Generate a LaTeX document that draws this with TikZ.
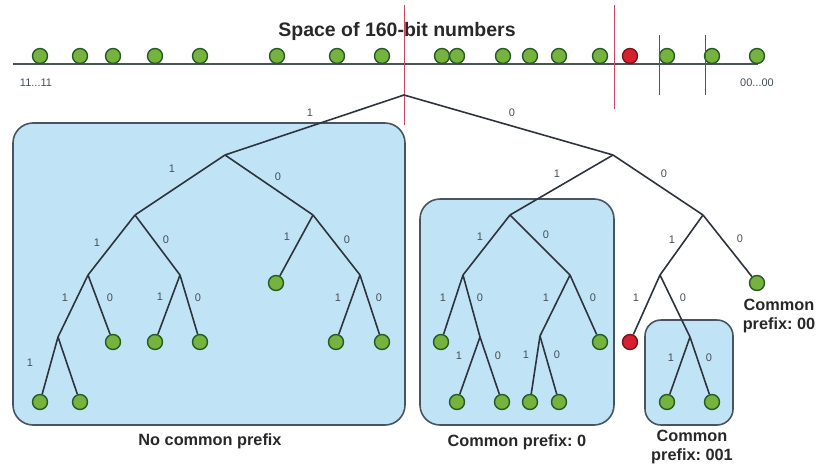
\documentclass[tikz,border=0pt]{standalone}
\usepackage{fontspec}
\setmainfont{Liberation Sans}
\frenchspacing
\begin{document}
\begin{tikzpicture}[x=1pt,y=-1pt,
  dot/.style={circle,draw=dotline,fill=dotgreen,line width=1.4pt,minimum size=15pt,inner sep=0pt},
  baddot/.style={dot,draw=reddotline,fill=dotred},
  edge/.style={draw=treeline,line width=1.6pt},
  region/.style={draw=boxline,fill=boxfill,line width=1.6pt,rounded corners=20pt},
  elab/.style={text=labgray,font=\fontsize{11}{12}\selectfont,inner sep=0pt},
  captext/.style={font=\fontsize{16.3}{19.5}\selectfont\bfseries,text=captxt,align=center,inner sep=0pt},
  divider/.style={draw=divred,line width=1pt},
  subdiv/.style={draw=divdark,line width=1pt}]
\definecolor{dotgreen}{RGB}{118,178,62}
\definecolor{dotline}{RGB}{38,92,34}
\definecolor{dotred}{RGB}{214,32,48}
\definecolor{reddotline}{RGB}{120,20,28}
\definecolor{treeline}{RGB}{45,52,62}
\definecolor{boxline}{RGB}{72,84,98}
\definecolor{boxfill}{RGB}{192,228,246}
\definecolor{labgray}{RGB}{70,78,88}
\definecolor{captxt}{RGB}{40,40,40}
\definecolor{divred}{RGB}{205,70,95}
\definecolor{divdark}{RGB}{120,70,90}
\useasboundingbox (0,0) rectangle (820,469);

% number line with keys
\node[font=\fontsize{19.5}{23}\selectfont\bfseries,text=captxt,inner sep=0pt] (title) at (397,31) {Space of 160-bit numbers};
\coordinate (lineL) at (13,64);
\coordinate (lineR) at (758,64);
\draw[draw=treeline!85,line width=1.5pt] (lineL) -- (lineR);
\node[elab] (hi) at (36,83) {11...11};
\node[elab] (lo) at (757,83) {00...00};
\foreach \x [count=\i] in {40,80,113,155,200,277,337,382,442,457,503,530,559,600,667,712,757}
  \node[dot] (k\i) at (\x,56) {};
\node[baddot] (kred) at (630,56) {};

% regions
\node[region,minimum width=392pt,minimum height=302pt] (regA) at (209,274) {};
\node[region,minimum width=194pt,minimum height=226pt] (regB) at (517,312) {};
\node[region,minimum width=88pt,minimum height=105pt,rounded corners=16pt] (regC) at (689,372.5) {};

% bucket dividers
\coordinate (d1t) at (404,5);   \coordinate (d1b) at (404,125);
\coordinate (d2t) at (614,5);   \coordinate (d2b) at (614,109);
\coordinate (d3t) at (659,35);  \coordinate (d3b) at (659,95);
\coordinate (d4t) at (705,35);  \coordinate (d4b) at (705,95);
\draw[divider] (d1t) -- (d1b);
\draw[divider] (d2t) -- (d2b);
\draw[subdiv] (d3t) -- (d3b);
\draw[subdiv] (d4t) -- (d4b);

% inner tree nodes
\coordinate (r) at (404,95);
\coordinate (a) at (225,155);
\coordinate (b) at (135,215);
\coordinate (c) at (313,215);
\coordinate (d) at (88,275);
\coordinate (f) at (180,275);
\coordinate (g) at (360,275);
\coordinate (e) at (58,337);
\coordinate (h) at (613,155);
\coordinate (i) at (510,215);
\coordinate (j) at (703,215);
\coordinate (kk) at (463,275);
\coordinate (m) at (570,275);
\coordinate (o) at (660,275);
\coordinate (l) at (480,337);
\coordinate (n) at (540,336);
\coordinate (p) at (690,337);

% leaves
\node[dot] (e1) at (40,402) {};
\node[dot] (e0) at (80,402) {};
\node[dot] (d0) at (113,342) {};
\node[dot] (f1) at (155,342) {};
\node[dot] (f0) at (200,342) {};
\node[dot] (c1) at (276,283) {};
\node[dot] (g1) at (336,342) {};
\node[dot] (g0) at (382,342) {};
\node[dot] (k1) at (441,342) {};
\node[dot] (l1) at (457,402) {};
\node[dot] (l0) at (502,402) {};
\node[dot] (n1) at (530,402) {};
\node[dot] (n0) at (559,402) {};
\node[dot] (m0) at (600,342) {};
\node[baddot] (o1) at (630,342) {};
\node[dot] (p1) at (667,402) {};
\node[dot] (p0) at (712,402) {};
\node[dot] (j0) at (757,283) {};

% branches
\draw[edge] (r) -- (a);  \draw[edge] (r) -- (h);
\draw[edge] (a) -- (b);  \draw[edge] (a) -- (c);
\draw[edge] (b) -- (d);  \draw[edge] (b) -- (f);
\draw[edge] (c) -- (c1); \draw[edge] (c) -- (g);
\draw[edge] (d) -- (e);  \draw[edge] (d) -- (d0);
\draw[edge] (e) -- (e1); \draw[edge] (e) -- (e0);
\draw[edge] (f) -- (f1); \draw[edge] (f) -- (f0);
\draw[edge] (g) -- (g1); \draw[edge] (g) -- (g0);
\draw[edge] (h) -- (i);  \draw[edge] (h) -- (j);
\draw[edge] (i) -- (kk); \draw[edge] (i) -- (m);
\draw[edge] (j) -- (o);  \draw[edge] (j) -- (j0);
\draw[edge] (kk) -- (k1); \draw[edge] (kk) -- (l);
\draw[edge] (l) -- (l1); \draw[edge] (l) -- (l0);
\draw[edge] (m) -- (n);  \draw[edge] (m) -- (m0);
\draw[edge] (n) -- (n1); \draw[edge] (n) -- (n0);
\draw[edge] (o) -- (o1); \draw[edge] (o) -- (p);
\draw[edge] (p) -- (p1); \draw[edge] (p) -- (p0);

% bit labels
\node[elab] at (310,113) {1};  \node[elab] at (512,113) {0};
\node[elab] at (172,169) {1};  \node[elab] at (278,177) {0};
\node[elab] at (97,243) {1};   \node[elab] at (166,240) {0};
\node[elab] at (287,237) {1};  \node[elab] at (347,240) {0};
\node[elab] at (65,298) {1};   \node[elab] at (110,298) {0};
\node[elab] at (30,363) {1};
\node[elab] at (160,297) {1};  \node[elab] at (198,298) {0};
\node[elab] at (338,298) {1};  \node[elab] at (379,298) {0};
\node[elab] at (557,174) {1};  \node[elab] at (664,174) {0};
\node[elab] at (480,237) {1};  \node[elab] at (546,235) {0};
\node[elab] at (672,240) {1};  \node[elab] at (740,239) {0};
\node[elab] at (443,298) {1};  \node[elab] at (480,298) {0};
\node[elab] at (459,356) {1};  \node[elab] at (498,356) {0};
\node[elab] at (546,298) {1};  \node[elab] at (593,298) {0};
\node[elab] at (526,355) {1};  \node[elab] at (557,355) {0};
\node[elab] at (636,298) {1};  \node[elab] at (683,298) {0};
\node[elab] at (671,358) {1};  \node[elab] at (709,358) {0};

% region captions
\node[captext] (capA) at (210,441) {No common prefix};
\node[captext] (capB) at (517,442) {Common prefix: 0};
\node[captext] (capC) at (692,447) {Common\\prefix: 001};
\node[captext] (capD) at (779,316) {Common\\prefix: 00};
\end{tikzpicture}
\end{document}
